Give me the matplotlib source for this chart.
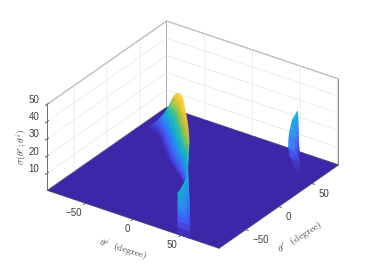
import numpy as np
import matplotlib
matplotlib.use('Agg')
import matplotlib.pyplot as plt
from matplotlib.colors import LinearSegmentedColormap

plt.rcParams['font.family'] = ['Liberation Sans', 'DejaVu Sans']
plt.rcParams['mathtext.fontset'] = 'cm'

theta_ticks = [-50, 0, 50]
sigma_ticks = [10, 20, 30, 40, 50]
floor_i = [-90, 90]
floor_r = [-90, 90]
floor_sigma = [[0, 0], [0, 0]]

# main ridge: foot of the flank and crest
foot_i = [-83.9, -81.8, -79.7, -77.6, -75.5, -73.4, -71.4, -70.2, -69.0, -67.2, -65.5, -62.6, -59.8,
          -55.1, -50.4, -44.0, -37.5, -31.2, -24.9, -14.8, -4.6, -1.2, 2.3]
foot_r = [50.9, 50.2, 49.5, 48.8, 48.1, 47.4, 46.6, 46.3, 46.1, 45.1, 44.2, 40.8, 37.4,
          33.0, 28.7, 22.4, 16.1, 10.8, 5.5, -1.5, -8.6, -10.5, -12.4]
crest_i = [-83.9, -78.7, -73.5, -66.9, -60.3, -52.4, -44.6, -36.5, -28.5, -18.4, -8.4, -5.3, -2.2,
           7.5, 17.3, 22.4, 27.4, 26.5, 25.1, 26.1, 27.2, 30.3, 33.5]
crest_r = [50.9, 49.6, 48.2, 44.7, 41.2, 33.8, 26.3, 18.5, 10.7, 0.7, -9.2, -10.6, -12.0,
           -23.0, -34.0, -39.6, -45.3, -43.7, -42.1, -44.4, -46.7, -52.0, -57.2]
crest_sigma = [0, 2, 5, 9, 14, 19, 25, 31, 38, 45, 50, 50, 49,
               48, 47, 45, 42, 37, 32, 27, 22, 20, 19]
flank_t = [0, .05, .1, .15, .2, .25, .3, .35, .4, .45, .5, .55, .6, .65, .7, .75, .8, .85, .9, .95, 1]
flank_frac = [0, .03, .06, .1, .14, .18, .23, .28, .33, .38, .43, .48, .54, .6, .66, .72, .78, .84,
              .9, .95, 1]

# front strip of the ridge, down to the edge of the floor
strip_i = [27.2, 30.3, 33.5, 37.0, 40.5, 43.6, 46.8, 46.8, 46.8]
strip_r = [-46.7, -52.0, -57.2, -65.3, -73.4, -81.7, -90, -90, -90]
strip_sigma = [23, 22, 22, 22, 23, 23, 24, 24, 24]
strip_foot_i = [53.5, 54.5, 55.6, 56.6, 57.6, 58.6, 59.6, 52.8, 46.8]
strip_foot_r = [-80.8, -82.2, -83.7, -85.1, -86.6, -88.0, -90, -90, -90]
strip_t = [0, .1, .2, .3, .4, .5, .6, .7, .8, .9, 1]
strip_frac = [0, .05, .1, .18, .26, .35, .45, .56, .68, .83, 1]

# second ridge at the far side
far_i = [48.4, 51.9, 57.8, 57.3, 58.4, 68.7, 81.5]
far_r = [88.5, 75.2, 62.3, 61.5, 62.9, 56.9, 49.3]
far_sigma = [24, 23, 20, 12, 6, 2, 0]
far_foot_i = [49.2, 52.6, 58.0, 66.9, 71.2, 76.7, 81.5]
far_foot_r = [89.6, 85.6, 78.5, 67.3, 61.8, 54.7, 49.3]
far_t = [0, .1, .2, .3, .4, .5, .6, .7, .8, .9, 1]
far_frac = [0, .04, .1, .18, .28, .39, .5, .62, .75, .88, 1]

parula = LinearSegmentedColormap.from_list('parula', [
    (0.2422, 0.1504, 0.6603), (0.2810, 0.3228, 0.9579), (0.1786, 0.5289, 0.9682),
    (0.0689, 0.6948, 0.8394), (0.2161, 0.7843, 0.5923), (0.6720, 0.7793, 0.2227),
    (0.9970, 0.7659, 0.2199), (0.9769, 0.9839, 0.0805)])


def sheet(ax, a_i, a_r, a_s, b_i, b_r, b_s, t, frac, order):
    # rows run from point a to point b, sigma follows the profile
    a_i, a_r, a_s = np.array(a_i), np.array(a_r), np.array(a_s, dtype=float)
    b_i, b_r, b_s = np.array(b_i), np.array(b_r), np.array(b_s, dtype=float)
    t, frac = np.array(t), np.array(frac)
    X = a_i[:, None] + (b_i - a_i)[:, None] * t
    Y = a_r[:, None] + (b_r - a_r)[:, None] * t
    Z = a_s[:, None] + (b_s - a_s)[:, None] * frac
    surf = ax.plot_surface(X, Y, Z, cmap=parula, vmin=0, vmax=53, rstride=1, cstride=1,
                           linewidth=0.3, antialiased=True, shade=False, zorder=order)
    surf.set_edgecolor('face')
    surf.set_clip_on(False)


fig = plt.figure(figsize=(3.74, 2.80), dpi=100)
ax = fig.add_axes([0.0055, 0.006, 1, 1], projection='3d', computed_zorder=False)
ax.set_proj_type('ortho')
ax.view_init(elev=29, azim=-55.2)
ax.set_box_aspect((208, 208, 98), zoom=1.08)
ax.set_xlim(-90, 90, view_margin=0)
ax.set_ylim(-90, 90, view_margin=0)
ax.set_zlim(0, 50, view_margin=0)

X0, Y0 = np.meshgrid(floor_i, floor_r)
base = ax.plot_surface(X0, Y0, np.array(floor_sigma), color=parula(0.0), shade=False,
                       linewidth=0, zorder=1)
base.set_clip_on(False)

sheet(ax, foot_i, foot_r, [0] * len(foot_i), crest_i, crest_r, crest_sigma, flank_t, flank_frac, 2)
sheet(ax, strip_i, strip_r, strip_sigma, strip_foot_i, strip_foot_r, [0] * len(strip_i),
      strip_t, strip_frac, 3)
sheet(ax, far_i, far_r, far_sigma, far_foot_i, far_foot_r, [0] * len(far_i),
      far_t, far_frac, 2)

ax.set_xticks(theta_ticks)
ax.set_yticks(theta_ticks)
ax.set_zticks(sigma_ticks)
for axis in (ax.xaxis, ax.yaxis, ax.zaxis):
    axis.set_pane_color((1, 1, 1, 1))
    axis.pane.set_edgecolor('#6a6a6a')
    axis.pane.set_linewidth(0.7)
    axis.line.set_color('#6a6a6a')
    axis.line.set_linewidth(0.7)
    axis._axinfo['grid']['color'] = '#e6e6e6'
    axis._axinfo['grid']['linewidth'] = 0.5
    axis._axinfo['tick']['color'] = '#6a6a6a'
ax.zaxis.set_ticks_position('lower')
ax.tick_params(labelsize=7, labelcolor='#404040', color='#6a6a6a', length=2, width=0.5)
ax.tick_params(axis='x', pad=-5)
ax.tick_params(axis='y', pad=-4)
ax.tick_params(axis='z', pad=-5)
for lab in ax.get_xticklabels():
    lab.set_ha('right')
for lab in ax.get_yticklabels():
    lab.set_ha('left')
for lab in ax.get_zticklabels():
    lab.set_ha('right')
    lab.set_va('bottom')

fig.text(0.329, 0.107, r'$\theta^i\ \ (\mathrm{degree})$', fontsize=7, rotation=-17, color='#404040',
         ha='center', va='center')
fig.text(0.802, 0.154, r'$\theta^r\ \ (\mathrm{degree})$', fontsize=7, rotation=32,
         color='#404040', ha='center', va='center')
fig.text(0.059, 0.475, r'$\sigma(\theta^r;\theta^i)$', fontsize=7, rotation=90, color='#404040',
         ha='center', va='center')

fig.savefig('out.png', dpi=100)
